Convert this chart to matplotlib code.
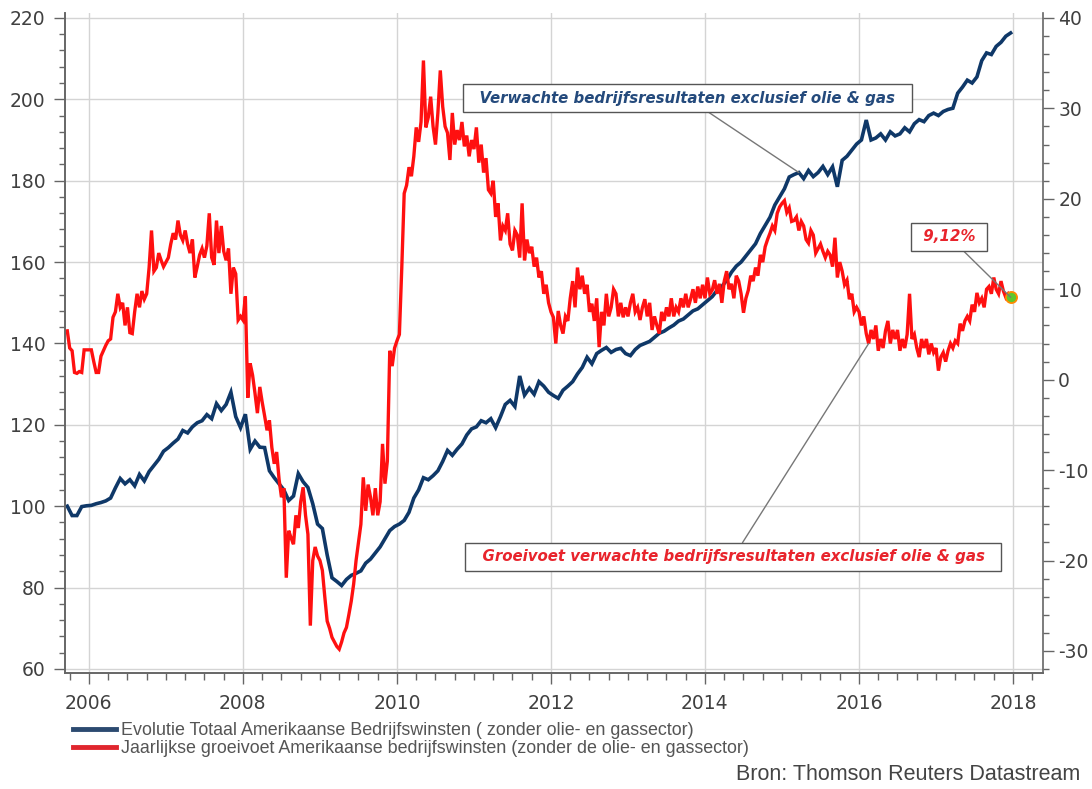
# Amerikaanse bedrijfswinsten excl. olie & gas: index + jaarlijkse groeivoet

import numpy as np
import matplotlib
matplotlib.use("Agg")
import matplotlib.pyplot as plt
from matplotlib.ticker import MultipleLocator
from matplotlib.lines import Line2D

plt.rcParams["axes.unicode_minus"] = False

# index (linker as), 16 waarnemingen per jaar vanaf 2005.72
winst_index = [
    100.0, 97.7, 97.7, 99.9, 100.1,
    100.2, 100.6, 100.9, 101.3, 102.0, 104.5, 106.8, 105.5, 106.5, 105.0, 107.8, 106.2, 108.5, 110.0, 111.5, 113.5,
    114.4, 115.5, 116.5, 118.6, 118.0, 119.5, 120.5, 121.0, 122.5, 121.5, 125.2, 123.5, 125.0, 128.0, 122.0, 119.3,
    122.6, 114.0, 116.0, 114.5, 114.4, 108.7, 107.0, 105.5, 104.0, 101.4, 102.5, 108.0, 106.0, 104.6, 100.6, 95.6,
    94.5, 88.0, 82.4, 81.5, 80.5, 82.0, 83.0, 83.5, 84.1, 86.0, 87.0, 88.5, 90.0, 92.0, 94.0, 95.0,
    95.6, 96.5, 98.5, 102.0, 104.0, 107.0, 106.5, 107.5, 108.7, 111.0, 113.7, 112.5, 114.0, 115.3, 117.5, 119.0,
    119.5, 121.0, 120.5, 121.5, 119.3, 122.0, 125.0, 126.0, 124.5, 132.0, 127.3, 129.0, 127.5, 130.6, 129.5, 128.0,
    127.2, 126.5, 128.5, 129.5, 130.6, 132.5, 134.1, 136.6, 135.0, 137.5, 138.3, 139.0, 137.8, 138.5, 138.8, 137.5,
    137.0, 138.5, 139.5, 140.0, 140.5, 141.5, 142.5, 143.0, 143.8, 144.5, 145.5, 146.0, 147.0, 148.0, 148.5, 149.5,
    150.5, 151.5, 153.0, 154.0, 155.5, 157.5, 159.0, 160.0, 161.5, 163.0, 164.5, 167.0, 169.0, 171.0, 174.0, 176.0,
    178.0, 180.9, 181.5, 182.0, 180.5, 182.5, 181.0, 182.0, 183.5, 181.5, 183.4, 178.5, 185.0, 186.0, 187.5, 189.0,
    190.0, 194.9, 190.0, 190.5, 191.5, 190.0, 192.0, 191.0, 191.5, 193.0, 192.0, 194.0, 195.0, 194.5, 196.0, 196.6,
    196.0, 197.0, 197.5, 197.8, 201.5, 203.0, 204.7, 204.0, 205.5, 209.5, 211.4, 211.0, 213.0, 214.0, 215.5, 216.3,
]

# jaarlijkse groeivoet in % (rechter as), 32 waarnemingen per jaar vanaf 2005.72
groeivoet = [
    5.4, 3.5, 3.2, 0.8, 0.7, 0.9, 0.8, 3.3, 3.3,
    # 2006
    3.3, 3.3, 2.0, 0.8, 0.8, 2.6, 3.2, 3.8, 4.3, 4.5, 6.9, 7.5, 9.5, 8.0, 8.5, 6.0,
    8.0, 5.2, 5.1, 7.5, 9.5, 8.0, 9.8, 8.9, 9.5, 12.4, 16.5, 12.0, 12.4, 14.0, 13.2, 12.5,
    # 2007
    13.0, 13.5, 15.0, 16.2, 15.5, 17.6, 16.0, 15.4, 16.5, 15.0, 14.0, 15.5, 11.3, 12.5, 13.8, 14.5,
    13.5, 14.8, 18.4, 13.5, 12.7, 17.6, 14.0, 17.0, 14.2, 13.2, 14.5, 9.5, 12.4, 11.7, 6.6, 7.0,
    # 2008
    6.6, 9.2, -2.0, 1.8, 0.5, -1.5, -3.7, -0.8, -2.5, -4.0, -5.6, -4.5, -7.5, -9.3, -8.0, -11.0,
    -13.0, -12.0, -21.9, -16.7, -17.5, -18.2, -15.0, -16.4, -13.5, -11.9, -15.0, -17.1, -27.2, -20.0, -18.5, -19.5,
    # 2009
    -20.0, -21.1, -24.0, -26.7, -27.5, -28.5, -29.0, -29.5, -29.8, -29.0, -28.0, -27.4, -26.0, -24.5, -22.6, -20.0,
    -18.0, -16.0, -10.8, -14.5, -11.6, -13.0, -15.0, -12.0, -15.0, -13.5, -7.1, -11.5, -9.0, 3.2, 1.5, 3.5,
    # 2010
    4.3, 5.0, 12.4, 20.6, 21.5, 23.5, 22.5, 24.7, 27.9, 26.3, 28.5, 35.3, 27.9, 29.0, 31.3, 28.0,
    26.0, 29.5, 34.2, 30.2, 28.0, 27.3, 24.3, 29.5, 26.0, 27.6, 26.5, 28.5, 25.8, 27.0, 24.7, 26.5,
    # 2011
    25.5, 27.9, 24.0, 26.0, 22.9, 24.5, 21.0, 20.6, 22.0, 18.0, 19.5, 15.4, 17.0, 16.5, 18.4, 15.0,
    14.3, 16.5, 16.0, 13.5, 19.5, 13.2, 15.5, 14.0, 14.7, 12.5, 13.5, 11.3, 12.0, 9.5, 10.5, 8.5,
    # 2012
    7.5, 6.9, 4.0, 7.6, 6.0, 5.1, 7.0, 6.5, 9.0, 10.9, 8.0, 12.4, 10.0, 11.5, 9.5, 10.5,
    7.5, 8.4, 6.5, 9.0, 3.6, 7.5, 6.0, 9.5, 7.0, 8.0, 10.0, 9.5, 7.0, 8.5, 6.9, 8.0,
    # 2013
    7.0, 8.5, 9.5, 7.5, 8.0, 6.6, 8.0, 8.9, 7.0, 8.5, 5.5, 7.0, 6.0, 5.1, 7.5, 6.5,
    8.0, 7.0, 9.0, 7.0, 8.0, 7.5, 9.0, 8.0, 9.5, 8.0, 8.9, 10.0, 8.5, 10.3, 9.0, 10.5,
    # 2014
    9.0, 11.3, 9.5, 9.9, 11.0, 9.5, 10.6, 8.5, 10.9, 12.0, 10.0, 10.6, 9.0, 11.5, 10.9, 9.5,
    7.4, 9.0, 9.9, 11.5, 10.9, 12.4, 11.5, 13.8, 13.0, 14.7, 15.5, 16.2, 17.0, 16.5, 18.4, 19.1,
    # 2015
    19.5, 19.8, 18.5, 19.0, 17.5, 17.6, 18.0, 16.5, 17.5, 17.0, 15.5, 15.1, 16.5, 16.0, 14.0, 14.5,
    15.0, 14.2, 13.5, 14.2, 13.8, 12.5, 15.7, 11.3, 13.0, 12.0, 10.5, 11.0, 8.9, 9.5, 7.5, 8.0,
    # 2016
    7.5, 6.0, 7.0, 5.1, 4.0, 5.5, 4.5, 6.0, 3.2, 4.5, 3.5, 5.4, 6.5, 4.0, 5.5, 4.5,
    5.5, 3.2, 4.5, 3.5, 5.0, 9.5, 4.5, 5.0, 3.5, 2.5, 4.5, 3.5, 4.5, 2.8, 4.0, 3.0,
    # 2017
    3.5, 1.0, 2.5, 3.0, 2.0, 3.2, 4.0, 3.5, 4.3, 4.0, 6.2, 5.4, 6.5, 7.0, 6.5, 8.3,
    7.5, 9.6, 8.5, 9.0, 8.0, 10.0, 10.3, 9.5, 11.3, 10.0, 9.5, 10.9, 9.8, 9.1, 9.5, 9.12,
]

t_index = 2005.72 + np.arange(len(winst_index)) / 16
t_groei = 2005.72 + np.arange(len(groeivoet)) / 32

x_jaren = [2006, 2008, 2010, 2012, 2014, 2016, 2018]
links_ticks = [60, 80, 100, 120, 140, 160, 180, 200, 220]
rechts_ticks = [-30, -20, -10, 0, 10, 20, 30, 40]

blauw = "#0f3868"
rood = "#ff1010"
as_kleur = "#666666"
tekst_kleur = "#404040"

fig = plt.figure(figsize=(10.92, 7.89), dpi=100)
ax = fig.add_axes([0.0595, 0.147, 0.8956, 0.8365])
ax2 = ax.twinx()

ax.plot(t_index, winst_index, color=blauw, lw=2.6, solid_joinstyle="miter")
ax2.plot(t_groei, groeivoet, color=rood, lw=2.4, solid_joinstyle="miter")
ax2.plot(t_groei[-1], groeivoet[-1], "o", ms=8, mfc="#5cc72e", mec="#ff8a00", mew=1.3, zorder=5)

ax.set_xlim(2005.69, 2018.39)
ax.set_ylim(59.0, 221.2)
ax2.set_ylim(-32.44, 40.55)

ax.set_xticks(x_jaren)
ax.set_xticklabels([str(j) for j in x_jaren])
ax.xaxis.set_minor_locator(MultipleLocator(0.25))
ax.set_yticks(links_ticks)
ax.yaxis.set_minor_locator(MultipleLocator(4))
ax2.set_yticks(rechts_ticks)
ax2.yaxis.set_minor_locator(MultipleLocator(2))

ax.grid(True, which="major", color="#d4d4d4", lw=1)
ax.set_axisbelow(True)

for a in (ax, ax2):
    a.spines["top"].set_visible(False)
    for s in ("left", "right", "bottom"):
        a.spines[s].set_color(as_kleur)
        a.spines[s].set_linewidth(1.2)
ax.spines["right"].set_visible(False)

ax.tick_params(axis="both", which="major", direction="out", length=8, width=1,
               color=as_kleur, labelsize=13.5, labelcolor=tekst_kleur)
ax.tick_params(axis="both", which="minor", direction="out", length=4, width=1, color=as_kleur)
ax.tick_params(axis="y", which="major", pad=6)
ax.tick_params(axis="x", which="major", pad=7)
ax.tick_params(axis="x", which="minor", length=5)
ax2.tick_params(axis="y", which="major", direction="out", length=8, width=1,
                color=as_kleur, labelsize=13.5, labelcolor=tekst_kleur, pad=3)
ax2.tick_params(axis="y", which="minor", direction="out", length=4, width=1, color=as_kleur)

# annotaties met verbindingslijn naar de reeksen
box = dict(boxstyle="square,pad=0.42", fc="white", ec="#555555", lw=1)
lijn = dict(arrowstyle="-", color="#777777", lw=1, shrinkA=0, shrinkB=0)
font = dict(fontsize=10.8, fontweight="bold", fontstyle="italic", ha="center", va="center")

i_blauw = 152
ax2.annotate("  Verwachte bedrijfsresultaten exclusief olie & gas  ",
             xy=(t_index[i_blauw], winst_index[i_blauw]), xycoords=ax.transData,
             xytext=(0.6365, 0.871), textcoords="axes fraction",
             color="#244a7c", bbox=box, arrowprops=lijn, zorder=6, **font)

i_rood = 333
ax2.annotate("  Groeivoet verwachte bedrijfsresultaten exclusief olie & gas  ",
             xy=(t_groei[i_rood], groeivoet[i_rood]), xycoords="data",
             xytext=(0.6835, 0.1758), textcoords="axes fraction",
             color="#e8242c", bbox=box, arrowprops=lijn, zorder=6, **font)

ax2.annotate(" 9,12% ",
             xy=(t_groei[-1], groeivoet[-1]), xycoords="data",
             xytext=(0.904, 0.661), textcoords="axes fraction",
             color="#e8242c", bbox=box, arrowprops=lijn, zorder=6, **font)

handles = [Line2D([], [], color="#2c4a70", lw=3.5),
           Line2D([], [], color="#e0262e", lw=3.5)]
labels = ["Evolutie Totaal Amerikaanse Bedrijfswinsten ( zonder olie- en gassector)",
          "Jaarlijkse groeivoet Amerikaanse bedrijfswinsten (zonder de olie- en gassector)"]
fig.legend(handles, labels, loc="upper left", bbox_to_anchor=(73 / 1092, 1 - 722 / 789),
           frameon=False, borderpad=0, borderaxespad=0, handlelength=2.4,
           handletextpad=0.3, labelspacing=0.05, labelcolor="#555555",
           prop=dict(family=["Liberation Sans", "DejaVu Sans"], size=12.9))

fig.text(1080 / 1092, 1 - 775 / 789, "Bron: Thomson Reuters Datastream",
         ha="right", va="center", fontsize=15.5, color="#444444",
         family=["Liberation Sans", "DejaVu Sans"])

fig.savefig("out.png", dpi=100)
